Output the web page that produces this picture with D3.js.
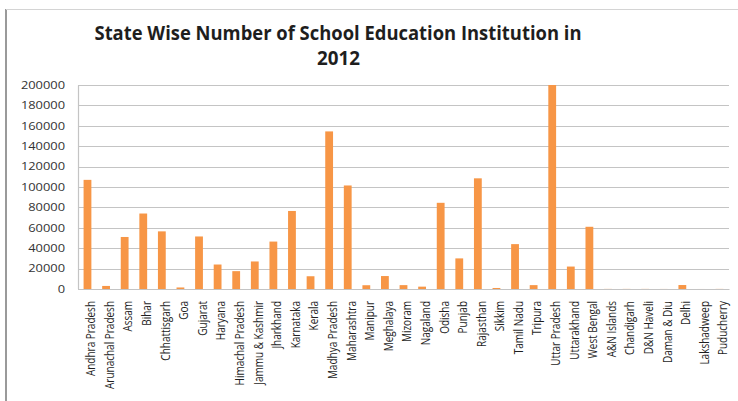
<!DOCTYPE html>
<html>
<head>
<meta charset="utf-8">
<script src="https://cdn.jsdelivr.net/npm/d3@7"></script>
<style>
  body { margin: 0; background: #fff; }
  svg { display: block; }
</style>
</head>
<body>
<div id="canvas"></div>
<script>
const w = 738
const h = 401

// data
const states = ['Andhra Pradesh', 'Arunachal Pradesh', 'Assam', 'Bihar', 'Chhattisgarh', 'Goa', 'Gujarat',
	'Haryana', 'Himachal Pradesh', 'Jammu & Kashmir', 'Jharkhand', 'Karnataka', 'Kerala', 'Madhya Pradesh',
	'Maharashtra', 'Manipur', 'Meghalaya', 'Mizoram', 'Nagaland', 'Odisha', 'Punjab', 'Rajasthan', 'Sikkim',
	'Tamil Nadu', 'Tripura', 'Uttar Pradesh', 'Uttarakhand', 'West Bengal', 'A&N Islands', 'Chandigarh',
	'D&N Haveli', 'Daman & Diu', 'Delhi', 'Lakshadweep', 'Puducherry'];
const institutions = [107000, 3000, 51000, 74000, 56500, 1500, 51500,
	24000, 17500, 27000, 46500, 76500, 12500, 154500,
	101500, 3700, 12700, 3800, 2300, 84500, 30000, 108500, 1000,
	44000, 3800, 200000, 22000, 61000, 100, 100,
	100, 50, 3900, 20, 100];
const yTicks = [0, 20000, 40000, 60000, 80000, 100000, 120000, 140000, 160000, 180000, 200000];
const titleLines = ['State Wise Number of School Education Institution in', '2012'];

const data = states.map((s, i) => ({state: s, value: institutions[i]}));

const svg = d3.select('#canvas')
	.append('svg')
	.attr('width', w)
	.attr('height', h);

// outer frame (left and top edges only)
svg.append('line')
	.attr('x1', 6).attr('x2', 6).attr('y1', 9).attr('y2', h)
	.attr('stroke', '#9a9a9a').attr('stroke-width', 2);
svg.append('line')
	.attr('x1', 6).attr('x2', w).attr('y1', 9.5).attr('y2', 9.5)
	.attr('stroke', '#d4d4d4').attr('stroke-width', 1);

// title
svg.append('text')
	.attr('x', 338).attr('y', 39.5)
	.attr('text-anchor', 'middle')
	.attr('font-family', 'Open Sans, sans-serif')
	.attr('font-weight', 'bold')
	.attr('font-size', 19.5)
	.attr('fill', '#1e1e1e')
	.attr('textLength', 487)
	.attr('lengthAdjust', 'spacingAndGlyphs')
	.text(titleLines[0]);
svg.append('text')
	.attr('x', 338.5).attr('y', 65)
	.attr('text-anchor', 'middle')
	.attr('font-family', 'Open Sans, sans-serif')
	.attr('font-weight', 'bold')
	.attr('font-size', 19.5)
	.attr('fill', '#1e1e1e')
	.attr('textLength', 43)
	.attr('lengthAdjust', 'spacingAndGlyphs')
	.text(titleLines[1]);

const margin = {top: 85, right: 9, bottom: 112, left: 78};
const graphWidth = w - margin.left - margin.right;
const graphHeight = h - margin.top - margin.bottom;

const graph = svg.append('g')
	.attr('transform', `translate(${margin.left}, ${margin.top})`);

const x = d3.scaleBand()
	.domain(states)
	.range([0, graphWidth])
	.paddingInner(0.58)
	.paddingOuter(0.3);

const y = d3.scaleLinear()
	.domain([0, 200000])
	.range([graphHeight, 0]);

// gridlines
graph.append('g')
	.selectAll('line')
	.data(yTicks)
	.enter()
	.append('line')
		.attr('x1', 0)
		.attr('x2', graphWidth)
		.attr('y1', d => Math.round(y(d)) + 0.5)
		.attr('y2', d => Math.round(y(d)) + 0.5)
		.attr('stroke', '#c4c4c4')
		.attr('stroke-width', 1.2);

// left axis line
graph.append('line')
	.attr('x1', 0.5).attr('x2', 0.5)
	.attr('y1', Math.round(y(200000)) + 0.5).attr('y2', graphHeight)
	.attr('stroke', '#c4c4c4').attr('stroke-width', 1.2);

// bars
graph.selectAll('rect')
	.data(data)
	.enter()
	.append('rect')
		.attr('x', d => x(d.state))
		.attr('width', x.bandwidth())
		.attr('y', d => y(Math.min(d.value, 200000)))
		.attr('height', d => graphHeight - y(Math.min(d.value, 200000)))
		.attr('fill', '#f79646');

// y axis
const yAxisGroup = graph.append('g');
const yAxis = d3.axisLeft(y)
	.tickValues(yTicks)
	.tickSize(0)
	.tickPadding(13)
	.tickFormat(d3.format('d'));
yAxisGroup.call(yAxis);
yAxisGroup.select('.domain').remove();
yAxisGroup.selectAll('text')
	.attr('font-family', 'Open Sans, sans-serif')
	.attr('font-size', 10.5)
	.attr('fill', '#333')
	.attr('textLength', d => String(d).length * 7.35)
	.attr('lengthAdjust', 'spacingAndGlyphs');

// x axis
const xAxisGroup = graph.append('g')
	.attr('transform', `translate(0, ${graphHeight})`);
const xAxis = d3.axisBottom(x)
	.tickSize(0);
xAxisGroup.call(xAxis);
xAxisGroup.select('.domain')
	.attr('stroke', '#c4c4c4')
	.attr('stroke-width', 1.2);
xAxisGroup.selectAll('text')
	.attr('transform', 'rotate(-90) scale(1, 1.35)')
	.attr('text-anchor', 'end')
	.attr('x', -12)
	.attr('y', 5.8)
	.attr('dy', 0)
	.attr('font-family', 'Open Sans, sans-serif')
	.attr('font-size', 10)
	.attr('fill', '#1e1e1e');
</script>
</body>
</html>
